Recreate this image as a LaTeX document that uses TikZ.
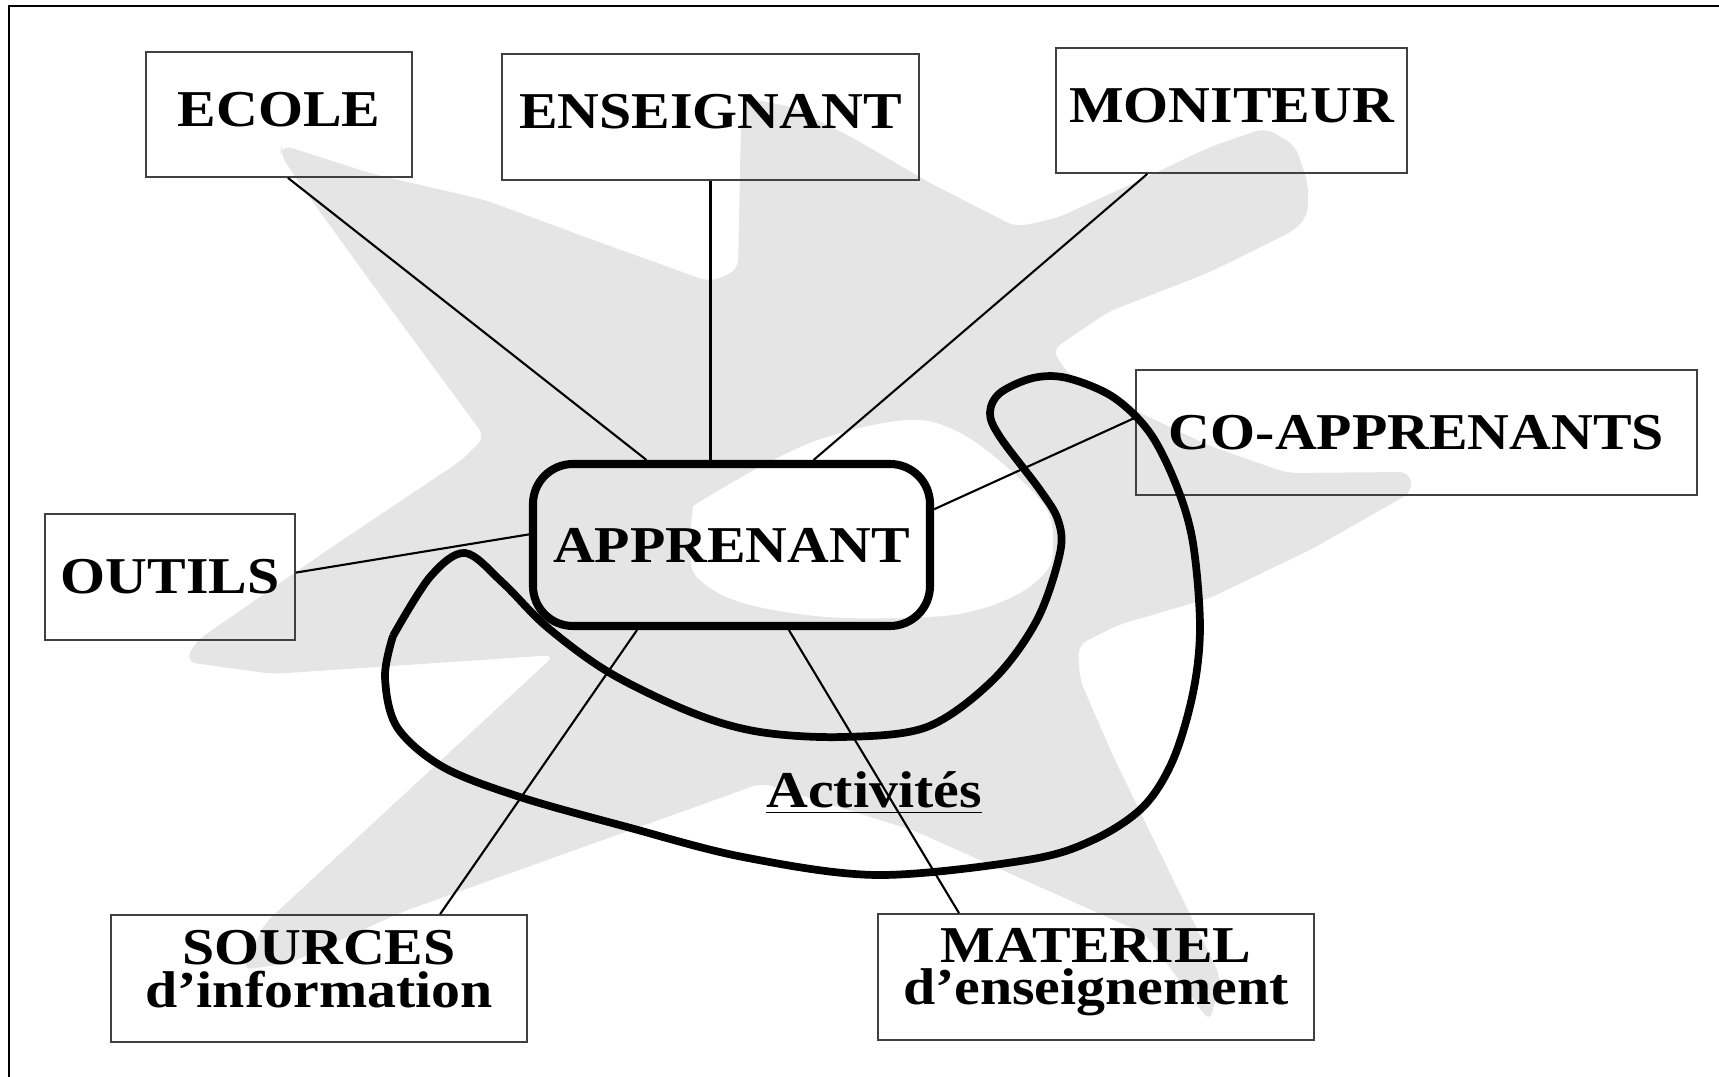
\documentclass[tikz,border=0pt]{standalone}
\usepackage{fontspec}
\setmainfont{Liberation Serif}[FakeStretch=1.12]

\begin{document}
\begin{tikzpicture}[
  entity/.style={draw=black!75, line width=0.5pt, minimum height=1.25cm, inner sep=0pt, align=center, font=\fontsize{14.7}{12.2}\selectfont\bfseries},
  toplabel/.style={text depth=1.1mm},
  learner/.style={draw, line width=2.3pt, rounded corners=4mm, minimum width=3.97cm, minimum height=1.62cm, inner sep=0pt, font=\fontsize{14.7}{12.2}\selectfont\bfseries},
  caption/.style={inner sep=0pt, font=\fontsize{14.7}{12.2}\selectfont\bfseries},
  link/.style={line width=0.6pt},
  loopline/.style={line width=2.2pt, line join=round}
]
\useasboundingbox (0,0) rectangle (17.19,-10.77);

% grey star behind
\fill[gray!20, rounded corners=1mm] (2.82,-1.45) -- (3.73,-1.74) -- (4.85,-2.00) -- (5.96,-2.41) -- (7.10,-2.82)
  -- (7.38,-2.70) -- (7.41,-1.25) -- (7.46,-0.98) -- (7.92,-1.07) -- (8.53,-1.38) -- (9.30,-1.83) -- (10.16,-2.27)
  -- (10.57,-2.18) -- (11.34,-1.83) -- (12.10,-1.47) -- (12.65,-1.28) -- (12.95,-1.45) -- (13.08,-1.83) -- (13.08,-2.15)
  -- (12.95,-2.30) -- (12.10,-2.72) -- (11.08,-3.12) -- (10.52,-3.50) -- (10.70,-3.76) -- (11.34,-4.10) -- (12.10,-4.46)
  -- (12.87,-4.73) -- (14.10,-4.72) -- (14.12,-4.92) -- (13.12,-5.49) -- (12.10,-5.98) -- (11.18,-6.25) -- (10.78,-6.45)
  -- (10.80,-6.80) -- (11.14,-7.58) -- (12.21,-9.78) -- (12.10,-10.22) -- (11.45,-9.34) -- (9.15,-8.31) -- (7.62,-7.83)
  -- (4.02,-9.12) -- (2.90,-9.63) -- (2.42,-9.70) -- (2.65,-9.23) -- (5.55,-6.55) -- (2.73,-6.74) -- (1.86,-6.62)
  -- (1.95,-6.42) -- (3.29,-5.49) -- (4.62,-4.60) -- (4.85,-4.37) -- (3.73,-2.85) -- (3.02,-1.87) -- (2.80,-1.54) -- cycle;
\fill[white] plot[smooth, tension=0.6] coordinates {(6.93,-5.06) (7.60,-4.67) (8.27,-4.37) (9.10,-4.20) (9.60,-4.33)
  (10.10,-4.70) (10.47,-5.10) (10.53,-5.47) (10.47,-5.70) (10.20,-5.93) (9.77,-6.10) (9.27,-6.17) (8.27,-6.17)
  (7.43,-6.03) (7.00,-5.80) (6.90,-5.55) (6.93,-5.06)} -- cycle;

% frame
\draw[line width=0.85pt] (17.19,-0.06) -- (0.09,-0.06) -- (0.09,-10.77);

% boxes
\node[entity, toplabel, minimum width=2.66cm] (ecole) at (2.79,-1.145) {ECOLE};
\node[entity, toplabel, minimum width=4.17cm, minimum height=1.26cm] (ens) at (7.105,-1.17) {ENSEIGNANT};
\node[entity, toplabel, minimum width=3.51cm] (mon) at (12.315,-1.105) {MONITEUR};
\node[entity, minimum width=5.61cm] (co) at (14.165,-4.325) {CO-APPRENANTS};
\node[entity, minimum width=2.50cm, minimum height=1.26cm] (outils) at (1.70,-5.77) {OUTILS};
\node[entity, minimum width=4.16cm, minimum height=1.27cm] (src) at (3.19,-9.785) {SOURCES\\d'information\rule[-1.9mm]{0pt}{1.9mm}};
\node[entity, minimum width=4.36cm, minimum height=1.26cm] (mat) at (10.96,-9.77) {MATERIEL\\d'enseignement\rule[-2.1mm]{0pt}{2.1mm}};
\node[learner] (app) at (7.315,-5.45) {APPRENANT};

% links
\draw[link] (ecole.-82) -- (app.135);
\draw[link] (ens.south) -- (ens.south |- app.north);
\draw[link] (mon.-143) -- (app.46);
\draw[link] (co.177) -- (app.10);
\draw[link] (outils.2) -- (app.177);
\draw[link] (src.28) -- (app.-138);
\draw[link] (mat.155) -- (app.-56);

% activities loop
\draw[loopline] plot[smooth, tension=0.55] coordinates {(3.93,-6.36) (4.30,-5.77) (4.65,-5.53) (5.03,-5.83)
  (5.47,-6.27) (6.10,-6.73) (6.93,-7.13) (7.60,-7.32) (8.43,-7.37) (9.27,-7.27) (9.93,-6.80) (10.37,-6.20)
  (10.60,-5.53) (10.58,-5.20) (10.40,-4.90) (10.00,-4.37) (9.90,-4.13) (10.00,-3.93) (10.33,-3.78) (10.67,-3.78)
  (11.13,-3.97) (11.50,-4.33) (11.77,-4.87) (11.93,-5.43) (12.00,-6.27) (11.93,-6.93) (11.73,-7.60) (11.43,-8.07)
  (10.93,-8.40) (10.27,-8.60) (8.77,-8.75) (7.43,-8.57) (6.27,-8.27) (5.20,-7.97) (4.43,-7.67) (3.97,-7.27)
  (3.85,-6.77) (3.93,-6.36)};
\node[caption, anchor=base] (act) at (8.74,-8.07) {\underline{Activités}};

\end{tikzpicture}
\end{document}
